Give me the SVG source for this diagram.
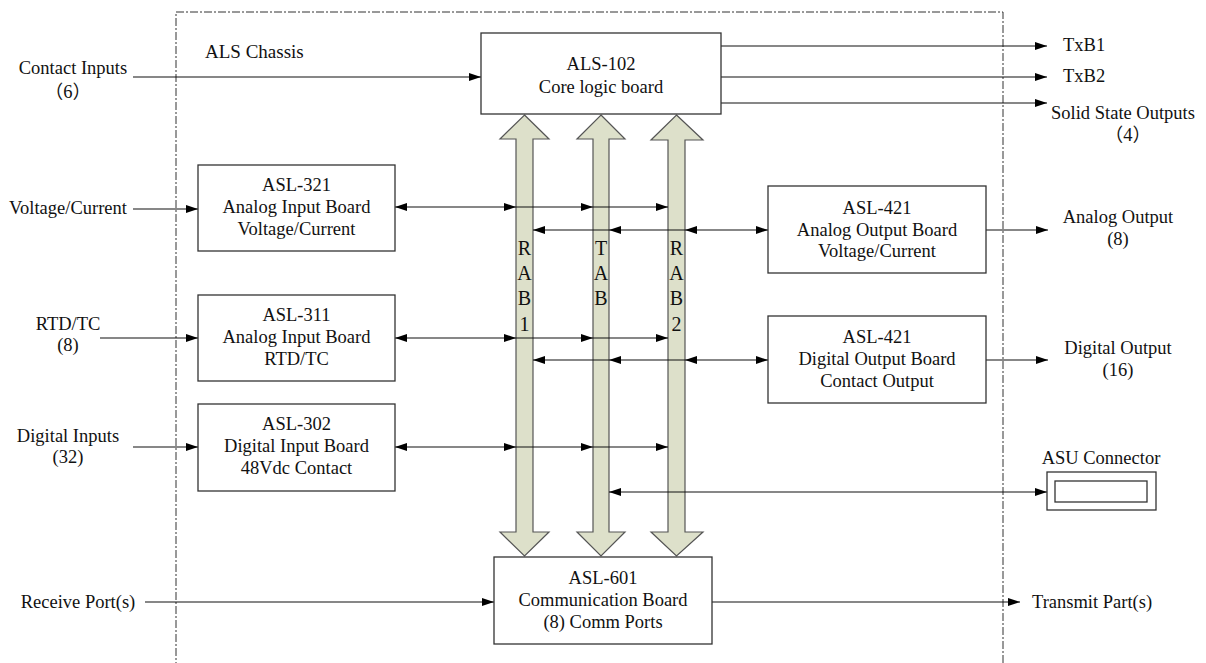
<svg xmlns="http://www.w3.org/2000/svg" width="1206" height="663" viewBox="0 0 1206 663">
<defs>
<marker id="ah" viewBox="0 0 12 8" refX="12" refY="4" markerWidth="12" markerHeight="8" markerUnits="userSpaceOnUse" orient="auto-start-reverse">
<path d="M0,0 L12,4 L0,8 Z" fill="#000"/>
</marker>
<style>
text{font-family:"Liberation Serif","Times New Roman","Noto Sans CJK SC",serif;font-size:18.5px;fill:#111}
.c{text-anchor:middle}
.box{fill:#fff;stroke:#333;stroke-width:1.3}
.bus{fill:#dde0ca;stroke:#555;stroke-width:1.2}
.ln{stroke:#111;stroke-width:1.2;fill:none}
.bl{font-size:20px;text-anchor:middle}
</style>
</defs>
<rect width="1206" height="663" fill="#fff"/>
<g id="chassis">
<path d="M176,670 L176,12 L1003,12 L1003,670" fill="none" stroke="#333" stroke-width="1" stroke-dasharray="8,2,2,2"/>
<text x="205" y="58" style="font-size:19px">ALS Chassis</text>
</g>
<g id="buses">
<g id="rab1"><polygon class="bus" points="524.5,115 549,139 533,139 533,532 549,532 524.5,556 500,532 516,532 516,139 500,139"/>
<text class="bl" x="524.5" y="255">R</text><text class="bl" x="524.5" y="280">A</text><text class="bl" x="524.5" y="305">B</text><text class="bl" x="524.5" y="331">1</text></g>
<g id="tab"><polygon class="bus" points="601,115 625,139 609,139 609,532 625,532 601,556 577,532 593,532 593,139 577,139"/>
<text class="bl" x="601" y="255">T</text><text class="bl" x="601" y="280">A</text><text class="bl" x="601" y="305">B</text></g>
<g id="rab2"><polygon class="bus" points="676.5,115 703,140 685,140 685,532 703,532 676.5,556 651,532 668,532 668,140 651,140"/>
<text class="bl" x="676.5" y="255">R</text><text class="bl" x="676.5" y="280">A</text><text class="bl" x="676.5" y="305">B</text><text class="bl" x="676.5" y="331">2</text></g>
</g>
<g id="connectors">
<line class="ln" x1="133" y1="77" x2="481" y2="77" marker-end="url(#ah)"/>
<line class="ln" x1="721" y1="46" x2="1047" y2="46" marker-end="url(#ah)"/>
<line class="ln" x1="721" y1="77" x2="1047" y2="77" marker-end="url(#ah)"/>
<line class="ln" x1="721" y1="103" x2="1047" y2="103" marker-end="url(#ah)"/>
<line class="ln" x1="133" y1="209" x2="198" y2="209" marker-end="url(#ah)"/>
<line class="ln" x1="395" y1="207" x2="516" y2="207" marker-start="url(#ah)" marker-end="url(#ah)"/>
<line class="ln" x1="516" y1="207" x2="593" y2="207" marker-end="url(#ah)"/>
<line class="ln" x1="593" y1="207" x2="668" y2="207" marker-end="url(#ah)"/>
<line class="ln" x1="685" y1="230" x2="768" y2="230" marker-start="url(#ah)" marker-end="url(#ah)"/>
<line class="ln" x1="685" y1="230" x2="609" y2="230" marker-end="url(#ah)"/>
<line class="ln" x1="609" y1="230" x2="533" y2="230" marker-end="url(#ah)"/>
<line class="ln" x1="986" y1="230" x2="1048" y2="230" marker-end="url(#ah)"/>
<line class="ln" x1="100" y1="338" x2="198" y2="338" marker-end="url(#ah)"/>
<line class="ln" x1="395" y1="338" x2="516" y2="338" marker-start="url(#ah)" marker-end="url(#ah)"/>
<line class="ln" x1="516" y1="338" x2="593" y2="338" marker-end="url(#ah)"/>
<line class="ln" x1="593" y1="338" x2="668" y2="338" marker-end="url(#ah)"/>
<line class="ln" x1="685" y1="360" x2="768" y2="360" marker-start="url(#ah)" marker-end="url(#ah)"/>
<line class="ln" x1="685" y1="360" x2="609" y2="360" marker-end="url(#ah)"/>
<line class="ln" x1="609" y1="360" x2="533" y2="360" marker-end="url(#ah)"/>
<line class="ln" x1="986" y1="360" x2="1048" y2="360" marker-end="url(#ah)"/>
<line class="ln" x1="133" y1="447" x2="198" y2="447" marker-end="url(#ah)"/>
<line class="ln" x1="395" y1="447" x2="516" y2="447" marker-start="url(#ah)" marker-end="url(#ah)"/>
<line class="ln" x1="516" y1="447" x2="593" y2="447" marker-end="url(#ah)"/>
<line class="ln" x1="593" y1="447" x2="668" y2="447" marker-end="url(#ah)"/>
<line class="ln" x1="609" y1="492" x2="1047" y2="492" marker-start="url(#ah)" marker-end="url(#ah)"/>
<line class="ln" x1="145" y1="602" x2="494" y2="602" marker-end="url(#ah)"/>
<line class="ln" x1="712" y1="602" x2="1020" y2="602" marker-end="url(#ah)"/>
</g>
<g id="als102"><rect class="box" x="481" y="33" width="240" height="81"/>
<text class="c" x="601" y="70">ALS-102</text><text class="c" x="601" y="93">Core logic board</text></g>
<g id="asl321"><rect class="box" x="198" y="165" width="197" height="86"/>
<text class="c" x="296.5" y="191">ASL-321</text><text class="c" x="296.5" y="213">Analog Input Board</text><text class="c" x="296.5" y="235">Voltage/Current</text></g>
<g id="asl311"><rect class="box" x="198" y="295" width="197" height="86"/>
<text class="c" x="296.5" y="321">ASL-311</text><text class="c" x="296.5" y="343">Analog Input Board</text><text class="c" x="296.5" y="365">RTD/TC</text></g>
<g id="asl302"><rect class="box" x="198" y="404" width="197" height="87"/>
<text class="c" x="296.5" y="430">ASL-302</text><text class="c" x="296.5" y="452">Digital Input Board</text><text class="c" x="296.5" y="474">48Vdc Contact</text></g>
<g id="asl421a"><rect class="box" x="768" y="186" width="218" height="87"/>
<text class="c" x="877" y="214">ASL-421</text><text class="c" x="877" y="236">Analog Output Board</text><text class="c" x="877" y="257">Voltage/Current</text></g>
<g id="asl421d"><rect class="box" x="768" y="316" width="218" height="87"/>
<text class="c" x="877" y="343">ASL-421</text><text class="c" x="877" y="365">Digital Output Board</text><text class="c" x="877" y="387">Contact Output</text></g>
<g id="asl601"><rect class="box" x="494" y="557" width="218" height="87"/>
<text class="c" x="603" y="584">ASL-601</text><text class="c" x="603" y="606">Communication Board</text><text class="c" x="603" y="628">(8) Comm Ports</text></g>
<g id="asu"><rect class="box" x="1047" y="472" width="109" height="38"/><rect class="box" x="1055" y="481" width="92" height="21"/>
<text class="c" x="1101" y="464">ASU Connector</text></g>
<g id="labels">
<text class="c" x="73" y="74">Contact Inputs</text><text class="c" x="68" y="98">（6）</text>
<text x="1063" y="51">TxB1</text><text x="1063" y="82">TxB2</text>
<text class="c" x="1123" y="119">Solid State Outputs</text><text class="c" x="1128" y="141">（4）</text>
<text class="c" x="68" y="214">Voltage/Current</text>
<text class="c" x="68" y="330">RTD/TC</text><text class="c" x="68" y="351">(8)</text>
<text class="c" x="68" y="442">Digital Inputs</text><text class="c" x="68" y="463">(32)</text>
<text class="c" x="78" y="608">Receive Port(s)</text>
<text x="1032" y="608">Transmit Part(s)</text>
<text class="c" x="1118" y="223">Analog Output</text><text class="c" x="1118" y="245">(8)</text>
<text class="c" x="1118" y="354">Digital Output</text><text class="c" x="1118" y="376">(16)</text>
</g>
</svg>
